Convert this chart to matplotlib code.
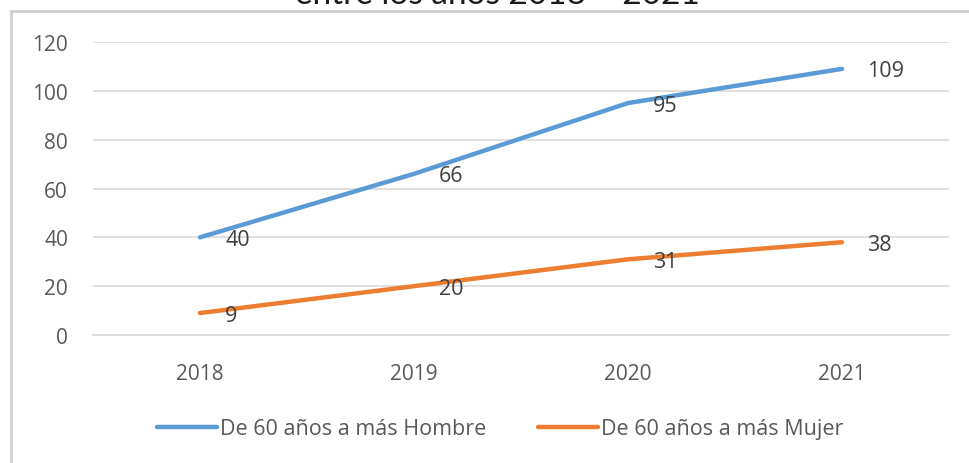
import matplotlib.pyplot as plt
from matplotlib.lines import Line2D

# datos
years = ["2018", "2019", "2020", "2021"]
hombre = [40, 66, 95, 109]
mujer = [9, 20, 31, 38]
series_names = ["De 60 años a más Hombre", "De 60 años a más Mujer"]
title_text = "entre los años 2018 – 2021"

blue = "#5B9BD5"
orange = "#ED7D31"
txt = "#595959"

fig = plt.figure(figsize=(9.69, 4.64), dpi=100)
W, H = 969, 464

# ejes: x de 93 a 949 px, y (0..120) de 336 a 43 px
ax = fig.add_axes([93 / W, 1 - 336 / H, (949 - 93) / W, (336 - 43) / H])
x = list(range(len(years)))
ax.plot(x, hombre, color=blue, lw=3.2, solid_capstyle="round", zorder=3)
ax.plot(x, mujer, color=orange, lw=3.2, solid_capstyle="round", zorder=3)

for xi, v in zip(x, hombre):
    ax.annotate(str(v), (xi, v), xytext=(25, -2), textcoords="offset pixels",
                ha="left", va="center", fontsize=15.5, color="#404040",
                family="Open Sans", zorder=4)
for xi, v in zip(x, mujer):
    ax.annotate(str(v), (xi, v), xytext=(25, -2), textcoords="offset pixels",
                ha="left", va="center", fontsize=15.5, color="#404040",
                family="Open Sans", zorder=4)

ax.set_xlim(-0.5, 3.5)
ax.set_ylim(0, 120)
ax.set_yticks(range(0, 121, 20))
ax.set_xticks(x)
ax.set_xticklabels(years)
ax.yaxis.grid(True, color="#D9D9D9", lw=1.2)
ax.set_axisbelow(True)
for s in ax.spines.values():
    s.set_visible(False)
ax.spines["bottom"].set_visible(True)
ax.spines["bottom"].set_color("#D9D9D9")
ax.spines["bottom"].set_linewidth(1.2)
ax.tick_params(length=0, labelsize=15, labelcolor=txt)
ax.tick_params(axis="x", pad=20)
ax.tick_params(axis="y", pad=18)
for lab in ax.get_xticklabels() + ax.get_yticklabels():
    lab.set_family("Open Sans")

# borde del recuadro del grafico
fig.add_artist(Line2D([11 / W, 11 / W], [0, 1 - 12 / H], color="#D0D0D0", lw=2,
                      transform=fig.transFigure))
fig.add_artist(Line2D([11 / W, 1], [1 - 12 / H, 1 - 12 / H], color="#D0D0D0", lw=2,
                      transform=fig.transFigure))

# titulo recortado arriba (en la referencia solo se ve la parte baja)
fig.text(497 / W, 1 - 4 / H, title_text, ha="center", va="baseline",
         fontsize=24, color="#1a1a1a", family="Lato")

handles = [Line2D([], [], color=blue, lw=3.2, solid_capstyle="round"),
           Line2D([], [], color=orange, lw=3.2, solid_capstyle="round")]
fig.legend(handles, series_names, loc="center", bbox_to_anchor=(500 / W, 1 - 430 / H),
           ncol=2, frameon=False, labelcolor=txt, handlelength=2.8,
           handletextpad=0.12, columnspacing=2.4, prop={"family": "Open Sans", "size": 15.5})

fig.savefig("out.png", dpi=100, facecolor="white")
